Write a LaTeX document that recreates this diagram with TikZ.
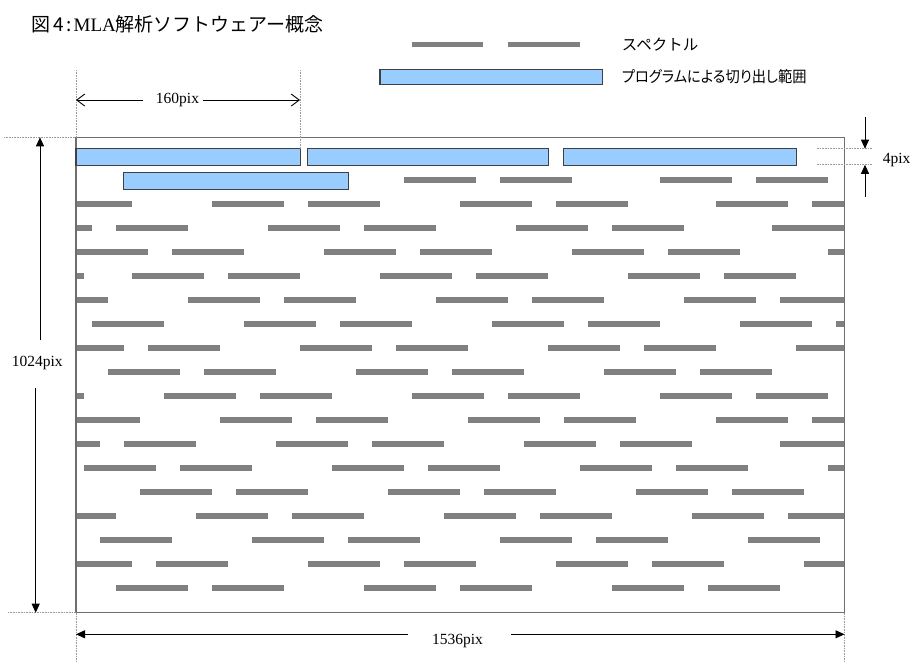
\documentclass[tikz,border=0pt]{standalone}
\usepackage{fontspec}
\setmainfont{Liberation Serif}
\newfontfamily\jp{Noto Sans CJK JP}
\newfontfamily\jpp[RawFeature=+palt]{Noto Sans CJK JP}
\usetikzlibrary{arrows.meta}
\definecolor{bargray}{HTML}{808080}
\definecolor{boxblue}{HTML}{99CCFF}
\definecolor{edgegray}{HTML}{404040}
\definecolor{framegray}{HTML}{6E6E6E}
\definecolor{dotgray}{HTML}{9A9A9A}
\begin{document}
\begin{tikzpicture}[x=1pt,y=-1pt,
  cut/.style={fill=boxblue, draw=edgegray, line width=1.1pt},
  dimline/.style={draw=black, line width=0.9pt},
  filledtip/.style={-{Triangle[length=9pt,width=8pt]}},
  opentip/.style={-{Straight Barb[length=8pt,width=12pt]}},
  guide/.style={draw=dotgray, line width=0.8pt, dash pattern=on 0.8pt off 0.8pt},
  lbl/.style={font=\fontsize{15.5}{18}\selectfont, inner sep=0pt},
  jlbl/.style={font=\fontsize{15.5}{18}\selectfont, inner sep=0pt, anchor=west},
]
\useasboundingbox (0,0) rectangle (914,662);

% title
\node[anchor=west, inner sep=0pt] (title) at (31.7,24)
  {\fontsize{19}{22}\selectfont{\jp 図}\hspace{3pt}{\jp 4}\hspace{2pt}{\jp :}\hspace{2pt}MLA{\jp 解析ソフトウェアー概念}};

% legend
\fill[bargray] (411.7,41.7) rectangle (483.3,47.3);
\fill[bargray] (508.3,41.7) rectangle (580,47.3);
\node[jlbl] (legspec) at (621.7,45) {\jp スペクトル};
\draw[cut] (380,69.3) rectangle (602.3,84.7);
\node[jlbl] (legcut) at (621.7,77) {\scalebox{0.92}[1]{\jpp プログラムによる切り出し範囲}};

% spectra bars
\begin{scope}
\clip (76,137.3) rectangle (844.5,612.7);
\foreach \yy/\xs in {
  180/{404,500,660,756},
  204/{60,212,308,460,556,716,812},
  228/{20,116,268,364,516,612,772},
  252/{76,172,324,420,572,668,828},
  276/{12,132,228,380,476,628,724},
  300/{36,188,284,436,532,684,780},
  324/{92,244,340,492,588,740,836},
  348/{52,148,300,396,548,644,796},
  372/{108,204,356,452,604,700},
  396/{12,164,260,412,508,660,756},
  420/{68,220,316,468,564,716,812},
  444/{28,124,276,372,524,620,780},
  468/{84,180,332,428,580,676,828},
  492/{140,236,388,484,636,732},
  516/{44,196,292,444,540,692,788},
  540/{100,252,348,500,596,748},
  564/{60,156,308,404,556,652,804},
  588/{116,212,364,460,612,708}} {
  \foreach \x in \xs {
    \fill[bargray] (\x,\yy-3.3) rectangle ++(72,6.7);
  }
}
\end{scope}

% frame
\draw[framegray, line width=1.3pt] (76,137.3) rectangle (844.5,612.7);

% cut-out ranges
\draw[cut] (76,148.7) rectangle (300.3,165.3);
\draw[cut] (307.7,148.7) rectangle (548.3,165.3);
\draw[cut] (563.7,148.7) rectangle (796.3,165.3);
\draw[cut] (123.7,172.7) rectangle (348.3,189.3);

% guides
\coordinate (gA) at (76,70);
\coordinate (gAb) at (76,137.3);
\coordinate (gB) at (300,70);
\coordinate (gBb) at (300,148.7);
\draw[guide] (gA) -- (gAb);
\draw[guide] (gB) -- (gBb);
\coordinate (gL1) at (4,137.3);
\coordinate (gL1b) at (76,137.3);
\coordinate (gL2) at (8,612.7);
\coordinate (gL2b) at (76,612.7);
\draw[guide] (gL1) -- (gL1b);
\draw[guide] (gL2) -- (gL2b);
\coordinate (gR1) at (816.7,148.7);
\coordinate (gR1b) at (871.7,148.7);
\coordinate (gR2) at (816.7,164.8);
\coordinate (gR2b) at (871.7,164.8);
\draw[guide] (gR1) -- (gR1b);
\draw[guide] (gR2) -- (gR2b);
\coordinate (gD1) at (76,612.7);
\coordinate (gD1b) at (76,662);
\coordinate (gD2) at (844.5,612.7);
\coordinate (gD2b) at (844.5,662);
\draw[guide] (gD1) -- (gD1b);
\draw[guide] (gD2) -- (gD2b);

% 160pix
\node[lbl] (l160) at (177.5,100) {160pix};
\coordinate (d160a) at (76,100);
\coordinate (d160b) at (300,100);
\coordinate (d160ga) at (143,100);
\coordinate (d160gb) at (203,100);
\draw[dimline, opentip] (d160ga) -- (d160a);
\draw[dimline, opentip] (d160gb) -- (d160b);

% 1024pix
\node[lbl] (l1024) at (37.2,363) {1024pix};
\coordinate (d1024a) at (40,137.3);
\coordinate (d1024ga) at (40,340);
\coordinate (d1024b) at (35.7,612.7);
\coordinate (d1024gb) at (35.7,388);
\draw[dimline, filledtip] (d1024ga) -- (d1024a);
\draw[dimline, filledtip] (d1024gb) -- (d1024b);

% 1536pix
\node[lbl] (l1536) at (457.5,640.7) {1536pix};
\coordinate (d1536a) at (76,634.3);
\coordinate (d1536ga) at (407.7,634.3);
\coordinate (d1536b) at (844.5,634.3);
\coordinate (d1536gb) at (511,634.3);
\draw[dimline, filledtip] (d1536ga) -- (d1536a);
\draw[dimline, filledtip] (d1536gb) -- (d1536b);

% 4pix
\node[lbl, anchor=west] (l4) at (882.7,160) {4pix};
\coordinate (d4a) at (865,117);
\coordinate (d4ab) at (865,148.7);
\coordinate (d4b) at (865,196.7);
\coordinate (d4bb) at (865,164.8);
\draw[dimline, filledtip] (d4a) -- (d4ab);
\draw[dimline, filledtip] (d4b) -- (d4bb);
\end{tikzpicture}
\end{document}
